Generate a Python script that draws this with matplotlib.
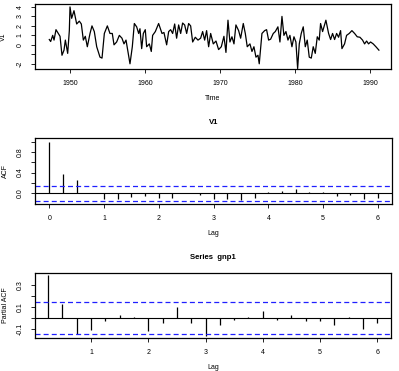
import numpy as np
import matplotlib
matplotlib.use('Agg')
import matplotlib.pyplot as plt

plt.rcParams['font.family'] = ['Liberation Sans', 'DejaVu Sans']

# serie trimestrielle (annee, valeur)
years = [1947.24, 1947.42, 1947.69, 1947.87, 1948.13, 1948.44, 1948.67, 1948.93, 1949.20, 1949.38,
         1949.69, 1949.91, 1950.00, 1950.22, 1950.53, 1950.89, 1951.24, 1951.51, 1951.78, 1952.04,
         1952.31, 1952.67, 1952.93, 1953.24, 1953.56, 1954.00, 1954.27, 1954.58, 1954.98, 1955.33,
         1955.64, 1955.87, 1956.22, 1956.58, 1956.93, 1957.20, 1957.47, 1958.00, 1958.31, 1958.58,
         1958.89, 1959.16, 1959.33, 1959.56, 1959.78, 1960.04, 1960.22, 1960.58, 1960.84, 1961.02,
         1961.38, 1961.82, 1962.27, 1962.53, 1962.89, 1963.16, 1963.42, 1963.69, 1963.96, 1964.22,
         1964.49, 1964.76, 1965.02, 1965.29, 1965.56, 1965.82, 1966.09, 1966.36, 1966.71, 1967.07,
         1967.42, 1967.69, 1967.96, 1968.22, 1968.49, 1968.76, 1969.11, 1969.47, 1969.82, 1970.18,
         1970.53, 1970.80, 1971.07, 1971.33, 1971.60, 1971.87, 1972.13, 1972.49, 1972.76, 1973.11,
         1973.38, 1973.64, 1974.00, 1974.27, 1974.53, 1974.80, 1975.07, 1975.24, 1975.60, 1975.96,
         1976.22, 1976.49, 1976.76, 1977.11, 1977.38, 1977.73, 1978.00, 1978.27, 1978.53, 1978.80,
         1979.07, 1979.33, 1979.60, 1979.87, 1980.13, 1980.36, 1980.58, 1980.84, 1981.11, 1981.38,
         1981.64, 1981.91, 1982.18, 1982.44, 1982.71, 1982.98, 1983.24, 1983.42, 1983.69, 1984.13,
         1984.49, 1984.76, 1985.02, 1985.29, 1985.56, 1985.82, 1986.09, 1986.27, 1986.62, 1986.89,
         1987.24, 1987.60, 1987.96, 1988.31, 1988.67, 1989.02, 1989.29, 1989.56, 1989.82, 1990.09,
         1990.44, 1990.80, 1991.20]
v1 = [0.56, 0.35, 1.0, 0.5, 1.6, 1.2, 0.9, -1.1, -0.56, 0.5,
      -0.9, 1.5, 4.0, 2.8, 3.6, 2.2, 2.5, 2.2, 0.5, 0.9,
      -0.2, 1.2, 2.0, 1.4, -0.2, -1.3, -1.4, 1.2, 2.0, 1.2,
      1.2, 0.0, 0.3, 1.0, 0.7, 0.1, 0.5, -2.0, -0.2, 2.25,
      1.9, 1.2, 1.7, -0.4, 1.2, 1.6, -0.2, 0.1, -0.7, 1.0,
      1.4, 2.25, 1.2, 1.3, 0.0, 1.4, 1.6, 1.2, 2.2, 0.7,
      2.1, 1.2, 2.3, 2.1, 1.2, 2.25, 2.0, 0.3, 0.8, 0.5,
      0.7, 1.4, 0.5, 1.5, -0.2, 1.2, 0.1, 0.4, -0.5, -0.2,
      0.9, -0.8, 2.6, 0.3, 0.85, 0.1, 2.1, 1.5, 0.7, 2.25,
      1.2, -0.2, 0.1, -0.7, -0.2, -1.3, -1.1, -2.0, 1.2, 1.5,
      1.6, 0.5, 0.6, 1.2, 1.4, 1.9, 0.3, 3.0, 1.0, 1.4,
      0.5, 1.0, -0.2, 0.85, 0.3, -2.5, 0.1, 1.2, 1.9, -0.2,
      0.5, -1.3, -1.4, -0.2, -0.9, 0.85, 0.5, 2.25, 1.4, 2.6,
      1.2, 0.56, 1.2, 0.56, 1.2, 0.8, 1.5, -0.4, 0.1, 1.0,
      1.2, 1.5, 1.2, 0.85, 0.8, 0.5, 0.1, 0.4, 0.1, 0.3,
      0.1, -0.2, -0.56]

# ACF (lags en annees, frequence 4)
acf_lags = [0, 0.25, 0.5, 0.75, 1, 1.25, 1.5, 1.75, 2, 2.25, 2.5, 2.75, 3,
            3.25, 3.5, 3.75, 4, 4.25, 4.5, 4.75, 5, 5.25, 5.5, 5.75, 6]
acf_vals = [1.0, 0.38, 0.25, 0.0, -0.12, -0.12, -0.07, -0.045, -0.1, -0.1, 0.0, -0.04, -0.12,
            -0.12, -0.13, -0.1, 0.02, 0.05, 0.09, 0.03, 0.02, -0.06, -0.04, -0.11, -0.1]

# PACF
pacf_lags = acf_lags[1:]
pacf_vals = [0.39, 0.133, -0.148, -0.103, -0.024, 0.03, 0.01, -0.115, -0.048, 0.097, -0.048, -0.158,
             -0.064, -0.018, 0.01, 0.064, -0.018, 0.033, -0.024, -0.027, -0.06, 0.015, -0.094, -0.042]

ci = 0.148
fs = 5


def style(ax):
    ax.tick_params(direction='out', length=3, width=0.6, pad=5, labelsize=fs)
    for s in ax.spines.values():
        s.set_linewidth(0.9)
    for lab in ax.get_yticklabels():
        lab.set_rotation(90)
        lab.set_va('center')


fig = plt.figure(figsize=(3.99, 3.71), dpi=100)

# serie temporelle
ax1 = fig.add_axes([0.0877, 0.814, 0.892, 0.175])
ax1.plot(years, v1, color='black', lw=0.9)
ax1.set_xlim(1945.33, 1992.8)
ax1.set_ylim(-2.55, 4.3)
ax1.set_xticks([1950, 1960, 1970, 1980, 1990])
ax1.set_yticks([-2, -1, 0, 1, 2, 3, 4])
ax1.set_yticklabels(['-2', '', '0', '1', '2', '3', '4'])
ax1.set_xlabel('Time', fontsize=fs, labelpad=6)
ax1.set_ylabel('V1', fontsize=fs, labelpad=7)
style(ax1)

# ACF
ax2 = fig.add_axes([0.0877, 0.450, 0.895, 0.178])
ax2.vlines(acf_lags, 0, acf_vals, color='black', lw=0.9)
ax2.axhline(0, color='black', lw=0.8)
ax2.axhline(ci, color='#2020ff', lw=0.9, ls=(0, (4, 2.5)))
ax2.axhline(-ci, color='#2020ff', lw=0.9, ls=(0, (4, 2.5)))
ax2.set_xlim(-0.26, 6.26)
ax2.set_ylim(-0.21, 1.07)
ax2.set_xticks(range(7))
ax2.set_yticks([0.0, 0.2, 0.4, 0.6, 0.8, 1.0])
ax2.set_yticklabels(['0.0', '', '0.4', '', '0.8', ''])
ax2.set_xlabel('Lag', fontsize=fs, labelpad=6)
ax2.set_ylabel('ACF', fontsize=fs, labelpad=6)
ax2.set_title('V1', fontsize=5.6, fontweight='bold', pad=10)
style(ax2)

# PACF
ax3 = fig.add_axes([0.0877, 0.089, 0.892, 0.175])
ax3.vlines(pacf_lags, 0, pacf_vals, color='black', lw=0.9)
ax3.axhline(0, color='black', lw=0.8)
ax3.axhline(ci, color='#2020ff', lw=0.9, ls=(0, (4, 2.5)))
ax3.axhline(-ci, color='#2020ff', lw=0.9, ls=(0, (4, 2.5)))
ax3.set_xlim(0.02, 6.24)
ax3.set_ylim(-0.18, 0.41)
ax3.set_xticks(range(1, 7))
ax3.set_yticks([-0.1, 0.0, 0.1, 0.2, 0.3])
ax3.set_yticklabels(['-0.1', '', '0.1', '', '0.3'])
ax3.set_xlabel('Lag', fontsize=fs, labelpad=6)
ax3.set_ylabel('Partial ACF', fontsize=fs, labelpad=6)
ax3.set_title('Series  gnp1', fontsize=5.6, fontweight='bold', pad=10)
style(ax3)

fig.savefig('out.png', dpi=100)
